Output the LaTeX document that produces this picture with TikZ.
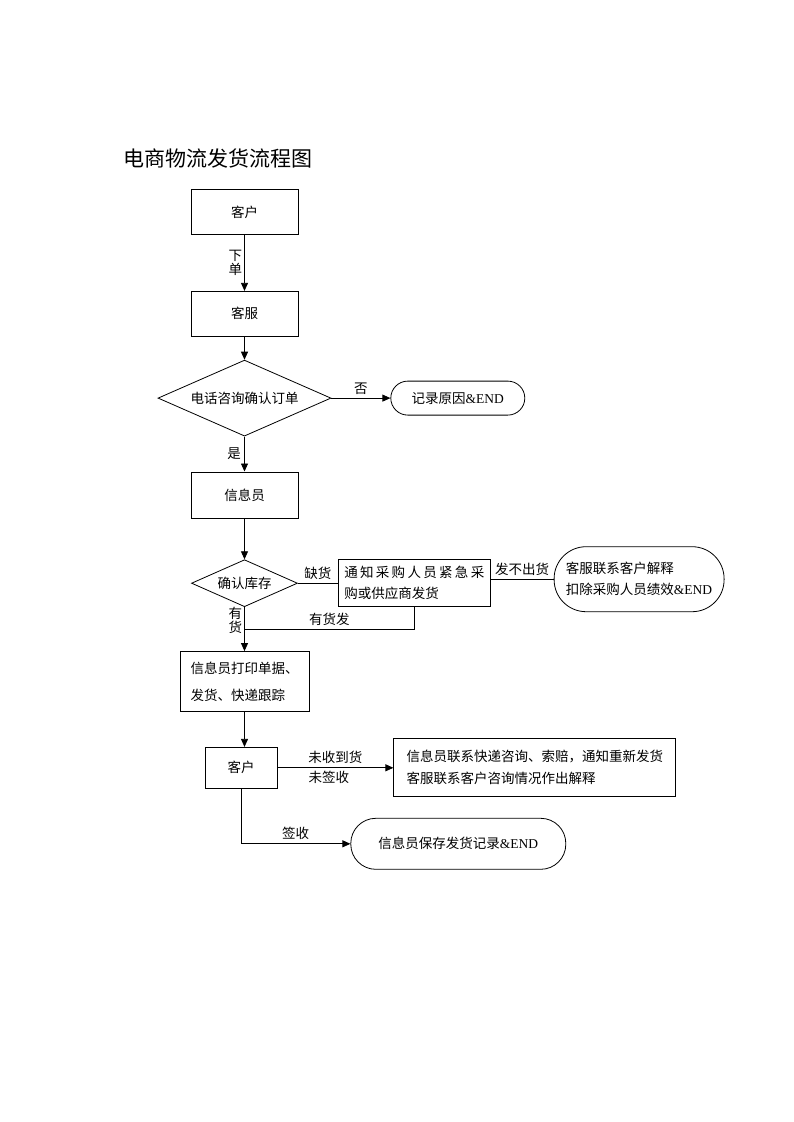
\documentclass[tikz,border=0pt]{standalone}
\usepackage{fontspec}
\setmainfont{Noto Sans CJK SC}
\newfontfamily\lat{Liberation Serif}
\usepackage{tikz}
\usetikzlibrary{positioning,shapes.geometric,arrows.meta,calc}
\newcommand{\txt}{\fontsize{13.5pt}{21pt}\selectfont}
\newcommand{\tight}{\fontsize{13.5pt}{13.5pt}\selectfont}
\tikzset{proc/.style={rectangle,draw,inner sep=0pt,minimum width=107pt,minimum height=45pt},
	 dec/.style={diamond,draw,aspect=2.28,inner sep=0pt},
	 term/.style={rectangle,draw,inner sep=0pt},
	 flow/.style={-{Triangle[length=8pt,width=7pt]}},
	 node distance = 40pt
	 }

\begin{document}
\begin{tikzpicture}[x=1pt,y=-1pt,line width=0.8pt,font=\txt] % e-commerce shipping flow
	\useasboundingbox (0,0) rectangle (793,1122);
	\node[anchor=west,font=\fontsize{21pt}{25pt}\selectfont] (title) at (120,158) {电商物流发货流程图};
	\node[proc] (kehu) at (244.5,212) {客户};
	\node[proc] (kefu) [below=56pt of kehu] {客服};
	\node[dec,minimum width=173pt,minimum height=76pt] (dianhua) [below=23pt of kefu] {电话咨询确认订单};
	\node[term,rounded corners=17pt,minimum width=134pt,minimum height=34pt] (jilu) [right=59pt of dianhua] {记录原因{\lat\&END}};
	\node[proc,minimum height=46pt] (xinxi) [below=35pt of dianhua] {信息员};
	\node[dec,minimum width=106pt,minimum height=47pt] (kucun) [below=41pt of xinxi] {确认库存};
	\node[proc,minimum width=152pt,minimum height=47pt,text width=140pt,align=left] (caigou) [right=40pt of kucun]
		{\makebox[140pt][s]{通\hfill 知\hfill 采\hfill 购\hfill 人\hfill 员\hfill 紧\hfill 急\hfill 采}\\购或供应商发货};
	\node[term,rounded corners=32pt,minimum width=170pt,minimum height=65pt,align=left] (jieshi) [right=63pt of caigou,yshift=4pt]
		{客服联系客户解释\\扣除采购人员绩效{\lat\&END}};
	\node[proc,minimum width=129pt,minimum height=60pt,align=left,font=\fontsize{13.5pt}{27pt}\selectfont] (dayin) [below=44pt of kucun]
		{信息员打印单据、\\发货、快递跟踪};
	\node[proc,minimum width=72pt,minimum height=41pt] (kehu2) [below=35pt of dayin,xshift=-3.5pt] {客户};
	\node[proc,minimum width=282pt,minimum height=58pt,align=left,font=\fontsize{13.5pt}{22pt}\selectfont] (kuaidi) [right=116pt of kehu2]
		{信息员联系快递咨询、索赔，通知重新发货\\客服联系客户咨询情况作出解释};
	\node[term,rounded corners=25pt,minimum width=215pt,minimum height=51pt] (baocun) [right=73pt of kehu2,yshift=-76pt]
		{信息员保存发货记录{\lat\&END}};
	\coordinate (hebing) at ($(kucun.south)!0.5!(dayin.north)$);
	\draw[flow] (kehu) -- node[left,align=center,font=\tight,inner sep=2pt] {下\\单} (kefu);
	\draw[flow] (kefu) -- (dianhua);
	\draw[flow] (dianhua) -- node[above] {否} (jilu);
	\draw[flow] (dianhua) -- node[left] {是} (xinxi);
	\draw[flow] (xinxi) -- (kucun);
	\draw (kucun) -- node[above] {缺货} (caigou);
	\draw (caigou.east |- jieshi.west) -- node[above] {发不出货} (jieshi.west);
	\draw[flow] (kucun) -- node[pos=0.3,left,align=center,font=\tight,inner sep=2pt] {有\\货} (dayin);
	\draw (caigou.south) |- node[pos=0.75,above] {有货发} (hebing);
	\draw[flow] (dayin.south) -- (dayin.south |- kehu2.north);
	\draw[flow] (kehu2) -- node[above] {未收到货} node[below,xshift=-6.5pt] {未签收} (kuaidi);
	\draw[flow] (kehu2.south) |- node[pos=0.75,above] {签收} (baocun.west);
\end{tikzpicture}
\end{document}
